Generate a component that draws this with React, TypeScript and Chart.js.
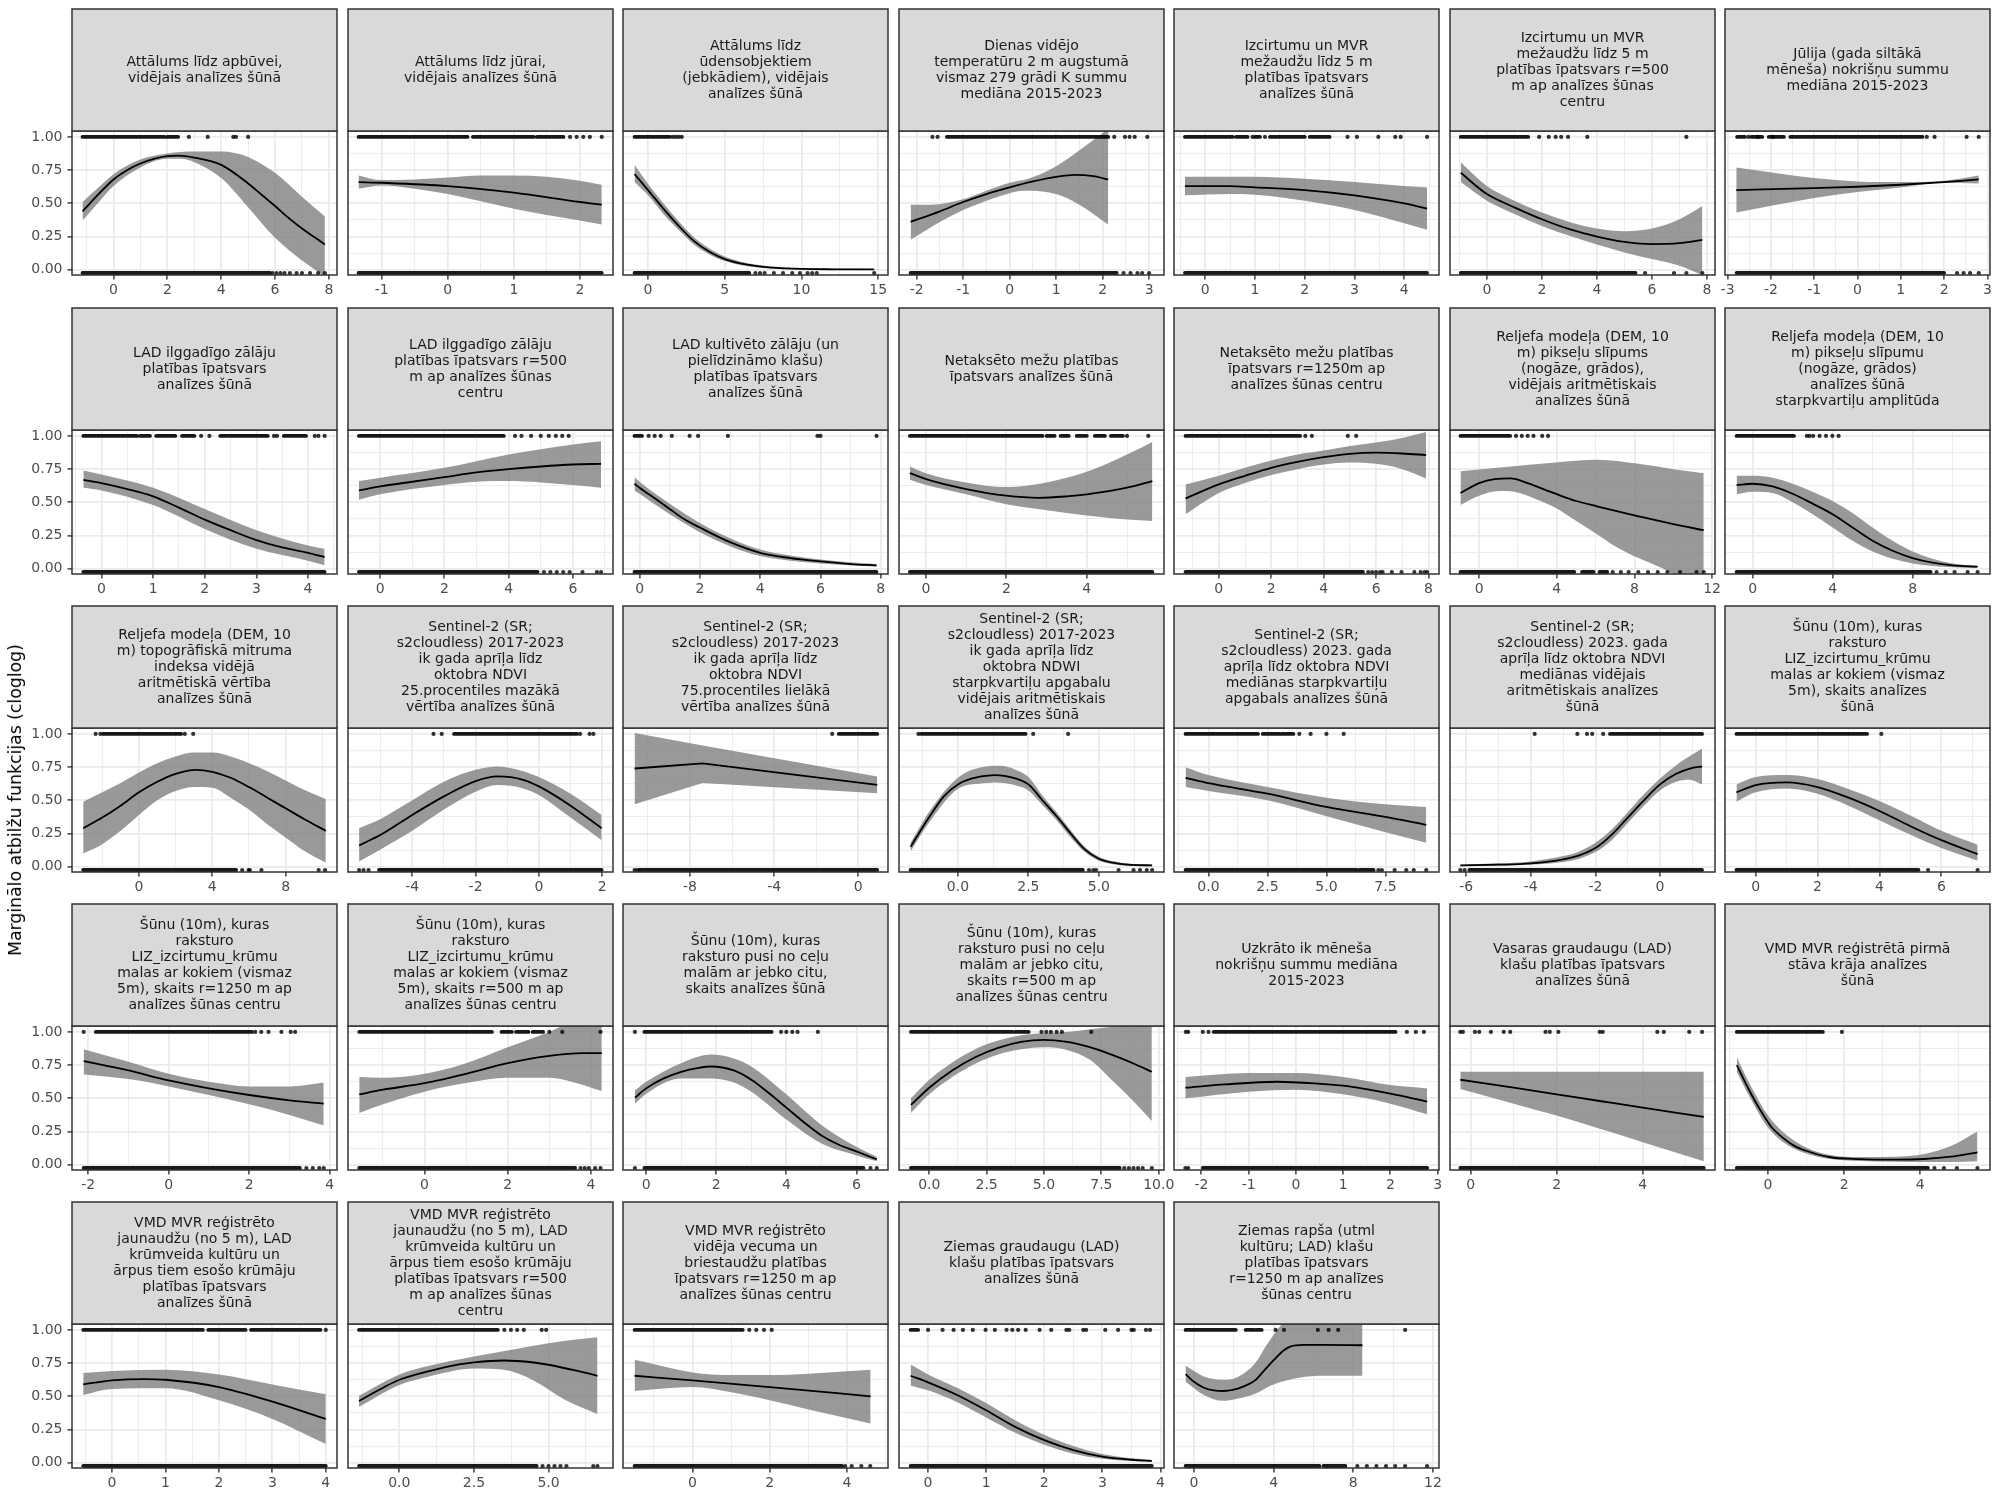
import React, { useEffect, useRef } from "react";
import { Chart, registerables } from "chart.js";

Chart.register(...registerables);

const FONT = '"DejaVu Sans", "Noto Sans", sans-serif';
Chart.defaults.font.family = FONT;

// ---------------- data ----------------
const yTitle = "Marginālo atbilžu funkcijas (cloglog)";

const panelTitles: string[] = [
  "Attālums līdz apbūvei,\nvidējais analīzes šūnā",
  "Attālums līdz jūrai,\nvidējais analīzes šūnā",
  "Attālums līdz\nūdensobjektiem\n(jebkādiem), vidējais\nanalīzes šūnā",
  "Dienas vidējo\ntemperatūru 2 m augstumā\nvismaz 279 grādi K summu\nmediāna 2015-2023",
  "Izcirtumu un MVR\nmežaudžu līdz 5 m\nplatības īpatsvars\nanalīzes šūnā",
  "Izcirtumu un MVR\nmežaudžu līdz 5 m\nplatības īpatsvars r=500\nm ap analīzes šūnas\ncentru",
  "Jūlija (gada siltākā\nmēneša) nokrišņu summu\nmediāna 2015-2023",
  "LAD ilggadīgo zālāju\nplatības īpatsvars\nanalīzes šūnā",
  "LAD ilggadīgo zālāju\nplatības īpatsvars r=500\nm ap analīzes šūnas\ncentru",
  "LAD kultivēto zālāju (un\npielīdzināmo klašu)\nplatības īpatsvars\nanalīzes šūnā",
  "Netaksēto mežu platības\nīpatsvars analīzes šūnā",
  "Netaksēto mežu platības\nīpatsvars r=1250m ap\nanalīzes šūnas centru",
  "Reljefa modeļa (DEM, 10\nm) pikseļu slīpums\n(nogāze, grādos),\nvidējais aritmētiskais\nanalīzes šūnā",
  "Reljefa modeļa (DEM, 10\nm) pikseļu slīpumu\n(nogāze, grādos)\nanalīzes šūnā\nstarpkvartiļu amplitūda",
  "Reljefa modeļa (DEM, 10\nm) topogrāfiskā mitruma\nindeksa vidējā\naritmētiskā vērtība\nanalīzes šūnā",
  "Sentinel-2 (SR;\ns2cloudless) 2017-2023\nik gada aprīļa līdz\noktobra NDVI\n25.procentiles mazākā\nvērtība analīzes šūnā",
  "Sentinel-2 (SR;\ns2cloudless) 2017-2023\nik gada aprīļa līdz\noktobra NDVI\n75.procentiles lielākā\nvērtība analīzes šūnā",
  "Sentinel-2 (SR;\ns2cloudless) 2017-2023\nik gada aprīļa līdz\noktobra NDWI\nstarpkvartiļu apgabalu\nvidējais aritmētiskais\nanalīzes šūnā",
  "Sentinel-2 (SR;\ns2cloudless) 2023. gada\naprīļa līdz oktobra NDVI\nmediānas starpkvartiļu\napgabals analīzes šūnā",
  "Sentinel-2 (SR;\ns2cloudless) 2023. gada\naprīļa līdz oktobra NDVI\nmediānas vidējais\naritmētiskais analīzes\nšūnā",
  "Šūnu (10m), kuras\nraksturo\nLIZ_izcirtumu_krūmu\nmalas ar kokiem (vismaz\n5m), skaits analīzes\nšūnā",
  "Šūnu (10m), kuras\nraksturo\nLIZ_izcirtumu_krūmu\nmalas ar kokiem (vismaz\n5m), skaits r=1250 m ap\nanalīzes šūnas centru",
  "Šūnu (10m), kuras\nraksturo\nLIZ_izcirtumu_krūmu\nmalas ar kokiem (vismaz\n5m), skaits r=500 m ap\nanalīzes šūnas centru",
  "Šūnu (10m), kuras\nraksturo pusi no ceļu\nmalām ar jebko citu,\nskaits analīzes šūnā",
  "Šūnu (10m), kuras\nraksturo pusi no ceļu\nmalām ar jebko citu,\nskaits r=500 m ap\nanalīzes šūnas centru",
  "Uzkrāto ik mēneša\nnokrišņu summu mediāna\n2015-2023",
  "Vasaras graudaugu (LAD)\nklašu platības īpatsvars\nanalīzes šūnā",
  "VMD MVR reģistrētā pirmā\nstāva krāja analīzes\nšūnā",
  "VMD MVR reģistrēto\njaunaudžu (no 5 m), LAD\nkrūmveida kultūru un\nārpus tiem esošo krūmāju\nplatības īpatsvars\nanalīzes šūnā",
  "VMD MVR reģistrēto\njaunaudžu (no 5 m), LAD\nkrūmveida kultūru un\nārpus tiem esošo krūmāju\nplatības īpatsvars r=500\nm ap analīzes šūnas\ncentru",
  "VMD MVR reģistrēto\nvidēja vecuma un\nbriestaudžu platības\nīpatsvars r=1250 m ap\nanalīzes šūnas centru",
  "Ziemas graudaugu (LAD)\nklašu platības īpatsvars\nanalīzes šūnā",
  "Ziemas rapša (utml\nkultūru; LAD) klašu\nplatības īpatsvars\nr=1250 m ap analīzes\nšūnas centru",
];

const xLimits: number[][] = [
  [-1.54, 8.3], [-1.51, 2.5], [-1.63, 15.64], [-2.38, 3.32], [-0.63, 4.7], [-1.34, 8.29], [-3.06, 3.06],
  [-0.57, 4.56], [-1.0, 7.25], [-0.55, 8.24], [-0.67, 5.92], [-1.71, 8.4], [-1.5, 12.15], [-1.38, 11.87],
  [-3.65, 10.8], [-6.03, 2.34], [-11.18, 1.41], [-2.09, 7.31], [-1.46, 9.77], [-6.5, 1.7], [-0.99, 7.57],
  [-2.4, 4.18], [-1.84, 4.53], [-0.66, 6.9], [-1.32, 10.23], [-2.58, 3.03], [-0.48, 5.68], [-1.13, 5.83],
  [-0.75, 4.21], [-1.72, 7.16], [-1.8, 5.06], [-0.5, 4.06], [-1.0, 12.3],
];

const xBreaks: number[][] = [
  [0, 2, 4, 6, 8], [-1, 0, 1, 2], [0, 5, 10, 15], [-2, -1, 0, 1, 2, 3], [0, 1, 2, 3, 4], [0, 2, 4, 6, 8], [-3, -2, -1, 0, 1, 2, 3],
  [0, 1, 2, 3, 4], [0, 2, 4, 6], [0, 2, 4, 6, 8], [0, 2, 4], [0, 2, 4, 6, 8], [0, 4, 8, 12], [0, 4, 8],
  [0, 4, 8], [-4, -2, 0, 2], [-8, -4, 0], [0, 2.5, 5], [0, 2.5, 5, 7.5], [-6, -4, -2, 0], [0, 2, 4, 6],
  [-2, 0, 2, 4], [0, 2, 4], [0, 2, 4, 6], [0, 2.5, 5, 7.5, 10], [-2, -1, 0, 1, 2, 3], [0, 2, 4], [0, 2, 4],
  [0, 1, 2, 3, 4], [0, 2.5, 5], [0, 2, 4], [0, 1, 2, 3, 4], [0, 4, 8, 12],
];

const yBreaks = [0, 0.25, 0.5, 0.75, 1];
const yLimits = [-0.04, 1.045];
const PRESENCE_Y = 1;
const ABSENCE_Y = -0.025;
const straightPanels = [16];

// marginal response (fit), [x, y]
const fitCurves: number[][][] = [
  [[-1.15,0.44],[-0.5,0.58],[0,0.68],[0.5,0.75],[1,0.8],[1.5,0.835],[2,0.855],[2.4,0.86],[3,0.845],[4,0.79],[5,0.65],[5.5,0.565],[6,0.48],[6.5,0.39],[7,0.31],[7.5,0.24],[7.85,0.19]],
  [[-1.35,0.66],[-1,0.655],[0,0.63],[1,0.58],[2,0.51],[2.33,0.49]],
  [[-0.88,0.72],[0,0.6],[1,0.46],[2,0.33],[3,0.215],[4,0.135],[5,0.08],[6,0.048],[7,0.028],[8,0.016],[10,0.006],[12,0.003],[14.74,0.002]],
  [[-2.13,0.36],[-1.5,0.44],[-1,0.51],[-0.5,0.57],[0,0.62],[0.5,0.665],[1,0.7],[1.4,0.715],[1.8,0.705],[2.12,0.68]],
  [[-0.41,0.63],[0.5,0.63],[1,0.62],[2,0.6],[3,0.56],[4,0.5],[4.46,0.46]],
  [[-0.95,0.73],[0,0.57],[1,0.47],[2,0.38],[3,0.305],[4,0.25],[5,0.21],[6,0.193],[7,0.2],[7.83,0.225]],
  [[-2.8,0.6],[-1,0.615],[0,0.625],[1,0.64],[2,0.66],[2.8,0.68]],
  [[-0.35,0.67],[0,0.645],[0.5,0.6],[1,0.545],[1.5,0.46],[2,0.37],[2.5,0.29],[3,0.215],[3.5,0.16],[4,0.12],[4.32,0.088]],
  [[-0.66,0.59],[0,0.62],[1,0.655],[2,0.69],[3,0.725],[4,0.75],[5,0.77],[6,0.785],[6.88,0.79]],
  [[-0.17,0.64],[0,0.61],[0.5,0.53],[1,0.45],[1.5,0.37],[2,0.31],[3,0.2],[4,0.12],[5,0.08],[6,0.055],[7,0.035],[7.86,0.025]],
  [[-0.4,0.72],[0,0.675],[1,0.6],[2,0.55],[2.8,0.534],[3.5,0.545],[4,0.56],[5,0.61],[5.63,0.66]],
  [[-1.27,0.53],[0,0.635],[1,0.7],[2,0.76],[3,0.805],[4,0.84],[5,0.865],[6,0.874],[7,0.868],[7.91,0.856]],
  [[-0.96,0.57],[0,0.645],[0.8,0.675],[1.62,0.68],[2.5,0.645],[3.93,0.565],[5,0.51],[6.07,0.47],[8.21,0.395],[10,0.335],[11.57,0.29]],
  [[-0.8,0.63],[0,0.64],[1,0.62],[2,0.565],[3,0.49],[4,0.41],[5,0.31],[6,0.21],[7,0.135],[8,0.08],[9,0.045],[10,0.025],[11.25,0.015]],
  [[-3.04,0.29],[-2,0.37],[-1,0.46],[0,0.56],[1,0.64],[2,0.7],[3.1,0.73],[4,0.715],[5,0.67],[6,0.6],[7,0.52],[8,0.44],[9,0.36],[10.19,0.27]],
  [[-5.68,0.16],[-5,0.24],[-4,0.39],[-3,0.53],[-2,0.645],[-1.3,0.68],[-0.5,0.655],[0,0.605],[1,0.46],[1.98,0.29]],
  [[-10.63,0.74],[-7.4,0.778],[0.9,0.617]],
  [[-1.68,0.15],[-1,0.38],[-0.5,0.53],[0,0.62],[0.5,0.665],[1,0.685],[1.3,0.69],[1.7,0.683],[2,0.668],[2.5,0.62],[3,0.5],[3.5,0.38],[4,0.25],[4.5,0.13],[5,0.06],[5.5,0.03],[6,0.015],[6.89,0.01]],
  [[-0.97,0.67],[0,0.63],[2.5,0.55],[5,0.45],[7.5,0.375],[9.23,0.315]],
  [[-6.18,0.01],[-5,0.015],[-4,0.025],[-3,0.055],[-2.5,0.085],[-2,0.14],[-1.5,0.24],[-1,0.37],[-0.5,0.5],[0,0.62],[0.5,0.7],[1,0.745],[1.3,0.755]],
  [[-0.62,0.56],[0,0.615],[1,0.635],[2,0.6],[3,0.52],[4,0.42],[5,0.305],[6,0.2],[7.17,0.095]],
  [[-2.11,0.78],[-1,0.71],[0,0.635],[1,0.575],[2,0.525],[3,0.485],[3.85,0.46]],
  [[-1.57,0.53],[-1,0.565],[0,0.615],[1,0.685],[2,0.765],[3,0.82],[3.8,0.84],[4.26,0.84]],
  [[-0.32,0.505],[0,0.575],[0.5,0.65],[1,0.7],[1.5,0.73],[1.85,0.74],[2.5,0.71],[3,0.64],[3.5,0.54],[4,0.43],[4.5,0.32],[5,0.22],[5.5,0.15],[6,0.1],[6.58,0.04]],
  [[-0.8,0.45],[0,0.58],[1,0.71],[2,0.81],[3,0.88],[4,0.925],[5,0.94],[6,0.925],[7,0.885],[7.5,0.857],[8,0.825],[9,0.755],[9.7,0.7]],
  [[-2.34,0.58],[-1.5,0.605],[-0.4,0.625],[0.5,0.61],[1,0.595],[2,0.535],[2.78,0.476]],
  [[-0.24,0.64],[1,0.58],[2,0.53],[3,0.48],[4,0.43],[5.42,0.36]],
  [[-0.82,0.75],[-0.6,0.62],[-0.4,0.51],[-0.2,0.41],[0,0.32],[0.1,0.28],[0.4,0.2],[0.7,0.14],[1,0.105],[1.6,0.058],[2.4,0.042],[3.3,0.038],[4.1,0.043],[4.8,0.06],[5.5,0.093]],
  [[-0.54,0.59],[0,0.62],[0.6,0.63],[1,0.625],[2,0.57],[3,0.46],[4,0.33]],
  [[-1.35,0.465],[-0.5,0.57],[0,0.625],[1,0.69],[2,0.74],[2.5,0.756],[3.5,0.77],[4.5,0.755],[5,0.738],[6,0.69],[6.64,0.655]],
  [[-1.5,0.655],[0,0.62],[2,0.57],[4.61,0.5]],
  [[-0.3,0.655],[0,0.605],[0.5,0.51],[1,0.395],[1.5,0.27],[2,0.17],[2.5,0.095],[3,0.045],[3.5,0.022],[3.85,0.013]],
  [[-0.42,0.667],[0,0.61],[0.5,0.565],[1,0.545],[1.47,0.54],[2,0.55],[2.5,0.575],[3.07,0.62],[3.5,0.69],[3.99,0.77],[4.5,0.845],[4.84,0.875],[5.5,0.887],[6.5,0.887],[8.46,0.885]],
];

// lower confidence limit, [x, y]
const lowerBounds: number[][][] = [
  [[-1.15,0.37],[-0.5,0.52],[0,0.63],[1,0.77],[2,0.835],[2.5,0.835],[3,0.81],[4,0.69],[5,0.47],[6,0.24],[7,0.07],[7.85,-0.05]],
  [[-1.35,0.61],[-1,0.635],[-0.5,0.61],[0,0.57],[1,0.46],[2,0.37],[2.33,0.34]],
  [[-0.88,0.66],[0,0.56],[1,0.42],[2,0.3],[3,0.19],[4,0.115],[5,0.065],[6,0.036],[8,0.01],[10,0.003],[14.74,0]],
  [[-2.13,0.225],[-1.5,0.36],[-1,0.45],[-0.5,0.52],[-0.2,0.555],[0.3,0.595],[0.7,0.59],[1,0.57],[1.5,0.49],[2.12,0.34]],
  [[-0.41,0.56],[0.5,0.57],[1,0.565],[2,0.52],[3,0.45],[4,0.35],[4.46,0.3]],
  [[-0.95,0.66],[0,0.52],[1,0.42],[2,0.33],[3,0.255],[4,0.19],[5,0.13],[6,0.08],[7,0.03],[7.83,-0.04]],
  [[-2.8,0.43],[-1,0.54],[0,0.585],[1,0.62],[2,0.655],[2.8,0.65]],
  [[-0.35,0.61],[0,0.59],[1,0.48],[2,0.3],[3,0.15],[4,0.06],[4.32,0.025]],
  [[-0.66,0.52],[0,0.56],[2,0.63],[3,0.655],[4,0.66],[5,0.65],[6,0.63],[6.88,0.61]],
  [[-0.17,0.59],[0,0.565],[1,0.41],[2,0.275],[3,0.17],[4,0.095],[5,0.06],[6,0.04],[7,0.025],[7.86,0.015]],
  [[-0.4,0.67],[0,0.63],[1,0.56],[2,0.485],[3,0.44],[4,0.4],[5,0.37],[5.63,0.36]],
  [[-1.27,0.41],[0,0.57],[1,0.645],[2,0.705],[3,0.75],[4,0.785],[5,0.8],[6,0.79],[7,0.75],[7.91,0.68]],
  [[-0.96,0.48],[0,0.55],[1,0.585],[1.8,0.58],[3,0.52],[3.93,0.46],[5,0.36],[6.07,0.26],[7,0.17],[8.21,0.08],[9.5,0],[10.2,-0.05],[11.57,-0.05]],
  [[-0.8,0.56],[0,0.58],[1,0.57],[2,0.5],[3,0.41],[4,0.31],[5,0.21],[6,0.13],[7,0.075],[8,0.04],[9,0.02],[10,0.01],[11.25,0.005]],
  [[-3.04,0.1],[-2,0.17],[-1,0.27],[0,0.39],[1,0.5],[2,0.57],[3,0.6],[4,0.595],[5,0.52],[6,0.43],[7,0.32],[8,0.22],[9,0.12],[10.19,0.03]],
  [[-5.68,0.04],[-5,0.13],[-4,0.27],[-3,0.43],[-2,0.565],[-1.3,0.615],[-0.5,0.59],[0,0.54],[1,0.37],[1.98,0.2]],
  [[-10.63,0.47],[-7.4,0.63],[0.9,0.554]],
  [[-1.68,0.115],[-1,0.34],[0,0.585],[1,0.63],[1.3,0.635],[1.7,0.628],[2,0.615],[2.5,0.575],[3,0.465],[3.5,0.35],[4,0.22],[4.5,0.11],[5,0.045],[6,0.008],[6.89,0.004]],
  [[-0.97,0.6],[0,0.57],[2.5,0.5],[5,0.38],[7.5,0.26],[9.23,0.18]],
  [[-6.18,0.005],[-5,0.008],[-4,0.015],[-3,0.035],[-2.5,0.06],[-2,0.11],[-1.5,0.2],[-1,0.33],[-0.5,0.46],[0,0.575],[0.5,0.64],[0.9,0.655],[1.3,0.62]],
  [[-0.62,0.49],[0,0.56],[1,0.59],[2,0.55],[3,0.46],[4,0.35],[5,0.24],[6,0.14],[7.17,0.045]],
  [[-2.11,0.68],[-1,0.645],[0,0.59],[1,0.525],[2,0.455],[3,0.375],[3.85,0.295]],
  [[-1.57,0.39],[-1,0.455],[0,0.55],[1,0.615],[2,0.655],[3,0.655],[3.6,0.62],[4.26,0.555]],
  [[-0.32,0.46],[0,0.535],[1,0.65],[1.85,0.65],[2.5,0.62],[3,0.55],[4,0.34],[5,0.16],[6,0.07],[6.58,0.025]],
  [[-0.8,0.39],[0,0.53],[1,0.66],[2,0.76],[3,0.83],[4,0.87],[5,0.885],[6,0.865],[7,0.79],[8,0.63],[9,0.46],[9.7,0.33]],
  [[-2.34,0.5],[-1,0.55],[0,0.565],[1,0.53],[2,0.46],[2.78,0.38]],
  [[-0.24,0.57],[1,0.46],[2,0.37],[3,0.27],[4,0.17],[5.42,0.025]],
  [[-0.82,0.7],[-0.5,0.52],[0,0.28],[0.4,0.17],[1,0.085],[1.6,0.045],[2.4,0.028],[3.3,0.022],[4.1,0.02],[4.8,0.02],[5.5,0.025]],
  [[-0.54,0.51],[0,0.555],[1,0.56],[2,0.47],[3,0.33],[4,0.14]],
  [[-1.35,0.42],[0,0.585],[1,0.65],[2.5,0.71],[3.5,0.7],[4.5,0.62],[5.5,0.48],[6.64,0.365]],
  [[-1.5,0.54],[0,0.57],[1,0.53],[2,0.47],[3,0.4],[4.61,0.295]],
  [[-0.3,0.58],[0,0.545],[0.5,0.455],[1,0.34],[1.5,0.225],[2,0.135],[2.5,0.068],[3,0.03],[3.5,0.012],[3.85,0.008]],
  [[-0.42,0.61],[0.5,0.51],[1.47,0.466],[2.11,0.48],[3.07,0.52],[3.99,0.59],[5.27,0.64],[6.5,0.655],[8.46,0.655]],
];

// upper confidence limit, [x, y]
const upperBounds: number[][][] = [
  [[-1.15,0.51],[-0.5,0.63],[0,0.72],[1,0.83],[2,0.875],[3,0.89],[4,0.89],[4.5,0.88],[5,0.85],[6,0.73],[7,0.55],[7.85,0.4]],
  [[-1.35,0.71],[-1,0.675],[-0.5,0.68],[0,0.695],[0.5,0.71],[1,0.71],[1.5,0.7],[2,0.67],[2.33,0.64]],
  [[-0.88,0.79],[0,0.645],[1,0.5],[2,0.365],[3,0.245],[4,0.16],[5,0.1],[6,0.062],[8,0.025],[10,0.01],[14.74,0.005]],
  [[-2.13,0.49],[-1.7,0.49],[-1,0.53],[-0.5,0.595],[0,0.655],[0.4,0.685],[1,0.78],[1.5,0.9],[2.12,1.06]],
  [[-0.41,0.7],[0.5,0.7],[1,0.7],[2,0.685],[3,0.66],[4,0.63],[4.46,0.62]],
  [[-0.95,0.81],[0,0.63],[1,0.52],[2,0.43],[3,0.36],[4,0.31],[5,0.29],[6,0.31],[7,0.38],[7.83,0.48]],
  [[-2.8,0.77],[-1,0.69],[0,0.665],[1,0.66],[2,0.67],[2.8,0.71]],
  [[-0.35,0.74],[0,0.71],[1,0.61],[2,0.45],[3,0.29],[4,0.175],[4.32,0.15]],
  [[-0.66,0.66],[0,0.685],[2,0.76],[3,0.81],[4,0.86],[5,0.9],[6,0.935],[6.88,0.96]],
  [[-0.17,0.69],[0,0.655],[1,0.49],[2,0.345],[3,0.23],[4,0.145],[5,0.1],[6,0.07],[7,0.048],[7.86,0.035]],
  [[-0.4,0.77],[0,0.72],[1,0.65],[2,0.615],[3,0.65],[4,0.73],[5,0.86],[5.63,0.955]],
  [[-1.27,0.635],[0,0.7],[1,0.76],[2,0.815],[3,0.86],[4,0.89],[5,0.925],[6,0.95],[7,0.985],[7.91,1.03]],
  [[-0.96,0.735],[0.95,0.76],[3.93,0.8],[6.07,0.82],[8.21,0.79],[10,0.75],[11.57,0.72]],
  [[-0.8,0.7],[0,0.7],[1,0.685],[2,0.64],[3,0.58],[4,0.51],[5,0.42],[6,0.31],[7,0.21],[8,0.13],[9,0.075],[10,0.04],[11.25,0.022]],
  [[-3.04,0.49],[-2,0.56],[-1,0.63],[0,0.71],[1,0.78],[2,0.83],[3,0.86],[4,0.86],[5,0.83],[6,0.78],[7,0.72],[8,0.65],[9,0.58],[10.19,0.51]],
  [[-5.68,0.29],[-5,0.36],[-4,0.5],[-3,0.64],[-2,0.73],[-1.3,0.755],[-0.5,0.72],[0,0.675],[1,0.55],[1.98,0.39]],
  [[-10.63,1.008],[-7.4,0.914],[0.9,0.68]],
  [[-1.68,0.18],[-1,0.42],[0,0.67],[1,0.755],[1.5,0.76],[2,0.735],[2.5,0.675],[3,0.535],[3.5,0.41],[4,0.275],[4.5,0.15],[5,0.075],[6,0.025],[6.89,0.015]],
  [[-0.97,0.75],[0,0.69],[2.5,0.6],[5,0.52],[7.5,0.47],[9.23,0.45]],
  [[-6.18,0.015],[-5,0.025],[-4,0.04],[-3,0.08],[-2.5,0.115],[-2,0.18],[-1.5,0.28],[-1,0.41],[-0.5,0.545],[0,0.665],[0.5,0.765],[1,0.845],[1.3,0.89]],
  [[-0.62,0.62],[0,0.675],[1,0.69],[2,0.66],[3,0.585],[4,0.495],[5,0.385],[6,0.27],[7.17,0.165]],
  [[-2.11,0.87],[-1,0.775],[0,0.685],[1,0.625],[2,0.59],[3,0.59],[3.85,0.62]],
  [[-1.57,0.66],[-1,0.655],[0,0.685],[1,0.765],[2,0.885],[3,1.0],[3.5,1.06],[4.26,1.06]],
  [[-0.32,0.56],[0,0.625],[1,0.765],[1.85,0.83],[2.5,0.8],[3,0.74],[4,0.53],[5,0.3],[6,0.135],[6.58,0.06]],
  [[-0.8,0.5],[0,0.64],[1,0.77],[2,0.87],[3,0.935],[4,0.975],[5,0.99],[6,1.0],[7,1.02],[8,1.04],[9.7,1.06]],
  [[-2.34,0.66],[-1,0.69],[0,0.69],[1,0.66],[2,0.6],[2.78,0.575]],
  [[-0.24,0.7],[1,0.7],[2,0.7],[3,0.7],[4,0.7],[5.42,0.7]],
  [[-0.82,0.81],[-0.5,0.62],[0,0.37],[0.4,0.245],[1,0.13],[1.6,0.075],[2.4,0.058],[3.3,0.06],[4.1,0.08],[4.8,0.14],[5.5,0.25]],
  [[-0.54,0.675],[0,0.69],[1,0.7],[2,0.665],[3,0.59],[4,0.515]],
  [[-1.35,0.505],[0,0.665],[1,0.73],[2.5,0.8],[4,0.86],[5,0.9],[6,0.93],[6.64,0.945]],
  [[-1.5,0.775],[0,0.68],[1,0.66],[2,0.66],[3,0.67],[4.61,0.7]],
  [[-0.3,0.74],[0,0.665],[0.5,0.565],[1,0.45],[1.5,0.32],[2,0.21],[2.5,0.125],[3,0.065],[3.5,0.033],[3.85,0.022]],
  [[-0.42,0.73],[0.5,0.65],[1.47,0.625],[2.11,0.64],[3.07,0.75],[3.71,0.9],[4.68,1.06],[8.46,1.06]],
];

// presence observations (y = 1): dense stretches [from, to] and single points
const presenceRuns: number[][][] = [
  [[-1.15,1.9],[2.0,2.4]],
  [[-1.35,0.3],[0.38,1.3],[1.35,1.75]],
  [[-0.88,1.4]],
  [[-1.35,2.12]],
  [[-0.41,0.55],[0.62,0.85],[1.0,1.1],[1.3,2.0],[2.1,2.5]],
  [[-0.95,1.5]],
  [[-2.78,-2.6],[-2.45,-2.2],[-2.05,-1.7],[-1.55,1.5]],
  [[-0.35,0.69],[0.75,0.94],[1.06,1.43],[1.56,1.8],[2.3,3.22],[3.53,3.96]],
  [[-0.66,3.85]],
  [[-0.17,0.08]],
  [[-0.4,2.9],[3.0,3.2],[3.35,3.55],[3.75,4.0],[4.2,4.45],[4.6,4.9]],
  [[-1.27,3.1]],
  [[-0.96,1.6]],
  [[-0.8,2.07]],
  [[-1.95,2.3]],
  [[-2.68,-2.5],[-2.45,1.2]],
  [[-0.93,0.9]],
  [[-1.3,2.4]],
  [[-0.97,2.1],[2.3,3.0],[3.1,3.6]],
  [[-1.55,1.3]],
  [[-0.62,3.6]],
  [[-1.81,2.07]],
  [[-1.57,1.62],[1.85,2.1],[2.2,2.5],[2.6,2.85]],
  [[-0.05,3.58]],
  [[-0.8,3.64],[3.75,4.33]],
  [[-1.74,2.11]],
  [],
  [[-0.82,1.44]],
  [[-0.54,1.7],[1.8,2.5],[2.6,3.9]],
  [[-1.35,2.9],[2.95,3.3]],
  [[-1.5,1.3]],
  [[-0.3,-0.17]],
  [[-0.42,2.1],[2.6,3.0],[3.1,3.4]],
];

const presencePoints: number[][] = [
  [2.8,3.5,4.45,4.55,5.0],
  [1.85,1.95,2.05,2.15,2.33],
  [1.6,1.8,2.0,2.2],
  [-1.66,-1.55,2.25,2.48,2.58,2.69,2.96],
  [0.95,1.2,2.86,3.05,3.48,3.82,3.93,4.46],
  [1.9,2.25,2.5,2.7,2.95,3.65,7.25],
  [-2.52,-2.3,-1.95,1.6,1.78,2.52,2.8],
  [1.93,2.09,3.34,3.4,4.13,4.2,4.32],
  [4.2,4.4,4.7,5.0,5.25,5.47,5.67,5.87],
  [0.3,0.5,0.7,1.07,1.66,1.94,2.93,5.9,6.0,7.86],
  [5.0,5.53],
  [3.3,3.55,4.92,5.24],
  [1.9,2.2,2.5,2.8,3.25,3.55],
  [2.71,2.85,3.03,3.35,3.67,3.99,4.3],
  [-2.36,-2.1,2.5,2.96],
  [-3.33,-3.07,1.3,1.6,1.72],
  [-1.24],
  [-1.4,2.67,3.91],
  [3.85,4.33,5.0,5.73],
  [-3.88,-2.56,-2.26,-2.1,-1.76],
  [4.06],
  [-2.11,2.15,2.3,2.48,2.8,3.03,3.14],
  [3.0,3.31,4.23],
  [-0.32,3.85,4.0,4.17,4.32,4.9],
  [4.89,5.1,5.3,5.55,5.78,7.06],
  [-2.33,-2.28,-1.97,-1.85,2.35,2.54,2.71],
  [-0.24,-0.18,0.1,0.2,0.47,0.77,0.92,1.74,1.84,2.04,3.0,3.07,4.34,4.49,5.08,5.38],
  [1.94],
  [4.0],
  [3.52,3.74,3.95,4.17,4.77,4.92],
  [1.47,1.65,1.85,2.05],
  [0.0,0.25,0.44,0.6,0.77,0.99,1.15,1.35,1.45,1.55,1.68,1.92,2.12,2.38,2.43,2.67,2.72,3.05,3.27,3.5,3.54,3.75,3.82],
  [4.1,4.52,6.22,6.76,7.24,10.6],
];

// absence observations (drawn just below 0)
const absenceRuns: number[][][] = [
  [[-1.15,5.8]],
  [[-1.35,2.33]],
  [[-0.88,6.6]],
  [[-2.13,2.3]],
  [[-0.41,4.46]],
  [[-0.95,4.0],[4.1,5.4]],
  [[-2.79,2.0]],
  [[-0.35,4.32]],
  [[-0.66,4.9]],
  [[-0.17,7.86]],
  [[-0.4,5.63]],
  [[-1.27,5.5]],
  [[-0.96,4.9],[5.3,5.9],[6.2,6.6]],
  [[-0.8,8.9]],
  [[-3.04,5.3]],
  [[-5.05,1.98]],
  [[-10.4,0.9]],
  [[-1.68,4.43]],
  [[-0.97,6.3],[6.4,7.0]],
  [[-5.9,1.3]],
  [[-0.62,5.26]],
  [[-2.11,3.26]],
  [[-1.57,3.62]],
  [[-0.05,6.2]],
  [[-0.8,8.3]],
  [[-1.97,2.78]],
  [[-0.24,5.42]],
  [[-0.82,4.2]],
  [[-0.54,4.0]],
  [[-1.35,4.6]],
  [[-1.5,3.87]],
  [[-0.3,3.85]],
  [[-0.42,6.3],[6.5,7.6]],
];

const absencePoints: number[][] = [
  [5.9,6.05,6.2,6.35,6.55,6.8,7.0,7.3,7.6,7.85],
  [],
  [7.0,7.3,7.6,8.2,8.8,9.4,9.9,10.4,10.7,11.0,14.74],
  [2.45,2.6,2.75,2.85,3.0],
  [],
  [5.75,6.8,7.25,7.83],
  [2.3,2.45,2.6,2.8],
  [],
  [5.1,5.3,5.5,5.7,5.9,6.3,6.75,6.88],
  [],
  [],
  [5.7,5.85,6.0,6.15,6.25,6.6,6.97,7.46,7.7,7.85,7.95],
  [6.88,7.3,7.7,8.2,8.7,9.2,9.7,10.35,11.2,11.57],
  [9.2,9.65,10.1,10.75,11.25],
  [5.63,5.98,6.05,6.68,9.8,10.15],
  [-5.68,-5.54,-5.38],
  [-10.63,-10.5],
  [4.65,4.8,4.9,5.7,6.23,6.46,6.7,6.89],
  [7.2,7.35,7.89,8.38,8.7,9.23],
  [-6.18,-6.05],
  [5.57,7.17],
  [3.42,3.58,3.74,3.85],
  [3.75,3.85,3.95,4.1,4.23],
  [-0.32,6.4,6.58],
  [8.5,8.7,8.9,9.1,9.3,9.7],
  [-2.34,-2.28],
  [],
  [4.37,4.62,4.96,5.5],
  [],
  [4.8,5.0,5.2,5.4,5.6,6.5,6.64],
  [3.95,4.12,4.37,4.6],
  [],
  [8.2,8.68,9.16,9.64,10.1,10.6,11.7],
];

// ---------------- layout & style ----------------
const NCOL = 7;
const COL_X0 = 72;
const COL_STEP = 275.5;
const ROW_Y0 = 9.3;
const ROW_STEP = 298.25;
const PANEL_W = 265;
const PANEL_H = 144;
const STRIP_H = 122;
const TOP_PAD = 3;
const LEFT_SPACE = 70;
const RIGHT_SPACE = 18;
const BOTTOM_SPACE = 30;
const CW = LEFT_SPACE + PANEL_W + RIGHT_SPACE;
const CH = TOP_PAD + STRIP_H + PANEL_H + BOTTOM_SPACE;

const TICK_FONT = 14;
const STRIP_FONT = 14;
const STRIP_LINE_H = 16;
const TITLE_FONT = 17.3;
const BORDER_COLOR = "#333333";
const BORDER_W = 1.5;
const STRIP_FILL = "#D9D9D9";
const STRIP_TEXT = "#1A1A1A";
const AXIS_TEXT = "#4D4D4D";
const MAJOR_GRID = "#EBEBEB";
const MINOR_GRID = "#EBEBEB";
const RIBBON = "rgba(128,128,128,0.8)";
const RUG_RUN = "rgba(0,0,0,0.9)";
const RUG_PT = "rgba(0,0,0,0.8)";

type TickObj = { value: number; mn: boolean };

function tickSet(breaks: number[], lo: number, hi: number): TickObj[] {
  const out: TickObj[] = breaks.map((v) => ({ value: v, mn: false }));
  const step = breaks.length > 1 ? breaks[1] - breaks[0] : 1;
  const minors: number[] = [];
  for (let k = 0; k < breaks.length - 1; k++) minors.push((breaks[k] + breaks[k + 1]) / 2);
  minors.push(breaks[0] - step / 2, breaks[breaks.length - 1] + step / 2);
  minors.filter((v) => v > lo && v < hi).forEach((v) => out.push({ value: v, mn: true }));
  return out.sort((a, b) => a.value - b.value);
}

const pairs = (arr: number[][]) => arr.map(([x, y]) => ({ x, y }));

function runsData(runs: number[][], y: number) {
  const out: { x: number; y: number | null }[] = [];
  runs.forEach(([a, b], k) => {
    if (k > 0) out.push({ x: a, y: null });
    out.push({ x: a, y }, { x: b, y });
  });
  return out;
}

function makeStripPlugin(title: string) {
  return {
    id: "facetStrip",
    afterDraw(chart: any) {
      const { ctx, chartArea } = chart;
      const l = chartArea.left, r = chartArea.right, t = chartArea.top, b = chartArea.bottom;
      ctx.save();
      ctx.lineWidth = BORDER_W;
      ctx.strokeStyle = BORDER_COLOR;
      ctx.strokeRect(l, t, r - l, b - t);
      const st = t - STRIP_H;
      ctx.fillStyle = STRIP_FILL;
      ctx.fillRect(l, st, r - l, STRIP_H);
      ctx.strokeRect(l, st, r - l, STRIP_H);
      const lines = title.split("\n");
      ctx.fillStyle = STRIP_TEXT;
      ctx.font = `${STRIP_FONT}px ${FONT}`;
      ctx.textAlign = "center";
      ctx.textBaseline = "middle";
      const cx = (l + r) / 2;
      const cy = st + STRIP_H / 2;
      lines.forEach((s, k) => ctx.fillText(s, cx, cy + (k - (lines.length - 1) / 2) * STRIP_LINE_H));
      ctx.restore();
    },
  };
}

function buildConfig(i: number): any {
  const showY = i % NCOL === 0;
  const [xmin, xmax] = xLimits[i];
  const xt = tickSet(xBreaks[i], xmin, xmax);
  const yt = tickSet(yBreaks, yLimits[0], yLimits[1]);
  const decimals = xBreaks[i].some((b) => !Number.isInteger(b)) ? 1 : 0;
  const straight = straightPanels.includes(i);
  const interp = straight
    ? { cubicInterpolationMode: "default", tension: 0 }
    : { cubicInterpolationMode: "monotone", tension: 0.4 };

  const gridColor = (ctx: any) => (ctx.tick && ctx.tick.mn ? MINOR_GRID : MAJOR_GRID);
  const gridWidth = (ctx: any) => (ctx.tick && ctx.tick.mn ? 0.9 : 1.8);
  const tickColor = (ctx: any) => (ctx.tick && ctx.tick.mn ? "rgba(0,0,0,0)" : BORDER_COLOR);

  return {
    type: "line",
    data: {
      datasets: [
        {
          data: runsData(presenceRuns[i], PRESENCE_Y),
          borderColor: RUG_RUN, borderWidth: 3.8, borderCapStyle: "round",
          pointRadius: 0, spanGaps: false, tension: 0, fill: false, order: 0,
        },
        {
          data: runsData(absenceRuns[i], ABSENCE_Y),
          borderColor: RUG_RUN, borderWidth: 3.8, borderCapStyle: "round",
          pointRadius: 0, spanGaps: false, tension: 0, fill: false, order: 0,
        },
        {
          data: [...presencePoints[i]].sort((a, b) => a - b).map((x) => ({ x, y: PRESENCE_Y })),
          showLine: false, pointRadius: 2.1, pointBackgroundColor: RUG_PT,
          pointBorderWidth: 0, pointBorderColor: "rgba(0,0,0,0)", order: 0,
        },
        {
          data: [...absencePoints[i]].sort((a, b) => a - b).map((x) => ({ x, y: ABSENCE_Y })),
          showLine: false, pointRadius: 2.1, pointBackgroundColor: RUG_PT,
          pointBorderWidth: 0, pointBorderColor: "rgba(0,0,0,0)", order: 0,
        },
        {
          data: pairs(fitCurves[i]),
          borderColor: "#000000", borderWidth: 1.8, borderJoinStyle: "round",
          pointRadius: 0, fill: false, order: 1, ...interp,
        },
        {
          data: pairs(lowerBounds[i]),
          borderColor: "rgba(0,0,0,0)", borderWidth: 0, pointRadius: 0, fill: false, order: 2, ...interp,
        },
        {
          data: pairs(upperBounds[i]),
          borderColor: "rgba(0,0,0,0)", borderWidth: 0, pointRadius: 0,
          fill: "-1", backgroundColor: RIBBON, order: 2, ...interp,
        },
      ],
    },
    options: {
      animation: false,
      responsive: false,
      devicePixelRatio: 1,
      events: [],
      layout: { autoPadding: false, padding: { top: TOP_PAD + STRIP_H, right: RIGHT_SPACE, bottom: 0, left: 0 } },
      plugins: { legend: { display: false }, tooltip: { enabled: false }, title: { display: false } },
      scales: {
        x: {
          type: "linear",
          min: xmin,
          max: xmax,
          bounds: "data",
          afterBuildTicks: (s: any) => { s.ticks = xt.map((t) => ({ ...t })); },
          afterFit: (s: any) => { s.height = BOTTOM_SPACE; },
          border: { display: false },
          grid: {
            color: gridColor, lineWidth: gridWidth, drawTicks: true,
            tickLength: 4.5, tickWidth: 1.4, tickColor,
          },
          ticks: {
            autoSkip: false, maxRotation: 0, minRotation: 0, padding: 2,
            color: AXIS_TEXT, font: { family: FONT, size: TICK_FONT },
            callback: (v: number, idx: number, ticks: any[]) =>
              ticks[idx] && ticks[idx].mn ? "" : decimals ? v.toFixed(1) : String(v),
          },
        },
        y: {
          type: "linear",
          min: yLimits[0],
          max: yLimits[1],
          bounds: "data",
          afterBuildTicks: (s: any) => { s.ticks = yt.map((t) => ({ ...t })); },
          afterFit: (s: any) => { s.width = LEFT_SPACE; },
          border: { display: false },
          grid: {
            color: gridColor, lineWidth: gridWidth, drawTicks: showY,
            tickLength: 4.5, tickWidth: 1.4, tickColor,
          },
          ticks: {
            display: showY, padding: 5,
            color: AXIS_TEXT, font: { family: FONT, size: TICK_FONT },
            callback: (v: number, idx: number, ticks: any[]) =>
              ticks[idx] && ticks[idx].mn ? "" : v.toFixed(2),
          },
        },
      },
    },
    plugins: [makeStripPlugin(panelTitles[i])],
  };
}

function FacetPanel({ index }: { index: number }) {
  const ref = useRef<HTMLCanvasElement | null>(null);
  useEffect(() => {
    if (!ref.current) return;
    const chart = new Chart(ref.current, buildConfig(index));
    return () => chart.destroy();
  }, [index]);
  const c = index % NCOL;
  const r = Math.floor(index / NCOL);
  const left = Math.round(COL_X0 + c * COL_STEP) - LEFT_SPACE;
  const top = Math.round(ROW_Y0 + r * ROW_STEP) - TOP_PAD;
  return (
    <canvas
      ref={ref}
      width={CW}
      height={CH}
      style={{ position: "absolute", left, top, width: CW, height: CH }}
    />
  );
}

export default function App() {
  return (
    <div
      style={{
        position: "absolute", left: 0, top: 0, width: 2000, height: 1500,
        background: "#ffffff", overflow: "hidden",
      }}
    >
      {panelTitles.map((_, i) => (
        <FacetPanel key={i} index={i} />
      ))}
      <div
        style={{
          position: "absolute", left: 15, top: 800,
          transform: "translate(-50%, -50%) rotate(-90deg)",
          font: `${TITLE_FONT}px ${FONT}`, color: "#000000", whiteSpace: "nowrap",
        }}
      >
        {yTitle}
      </div>
    </div>
  );
}
